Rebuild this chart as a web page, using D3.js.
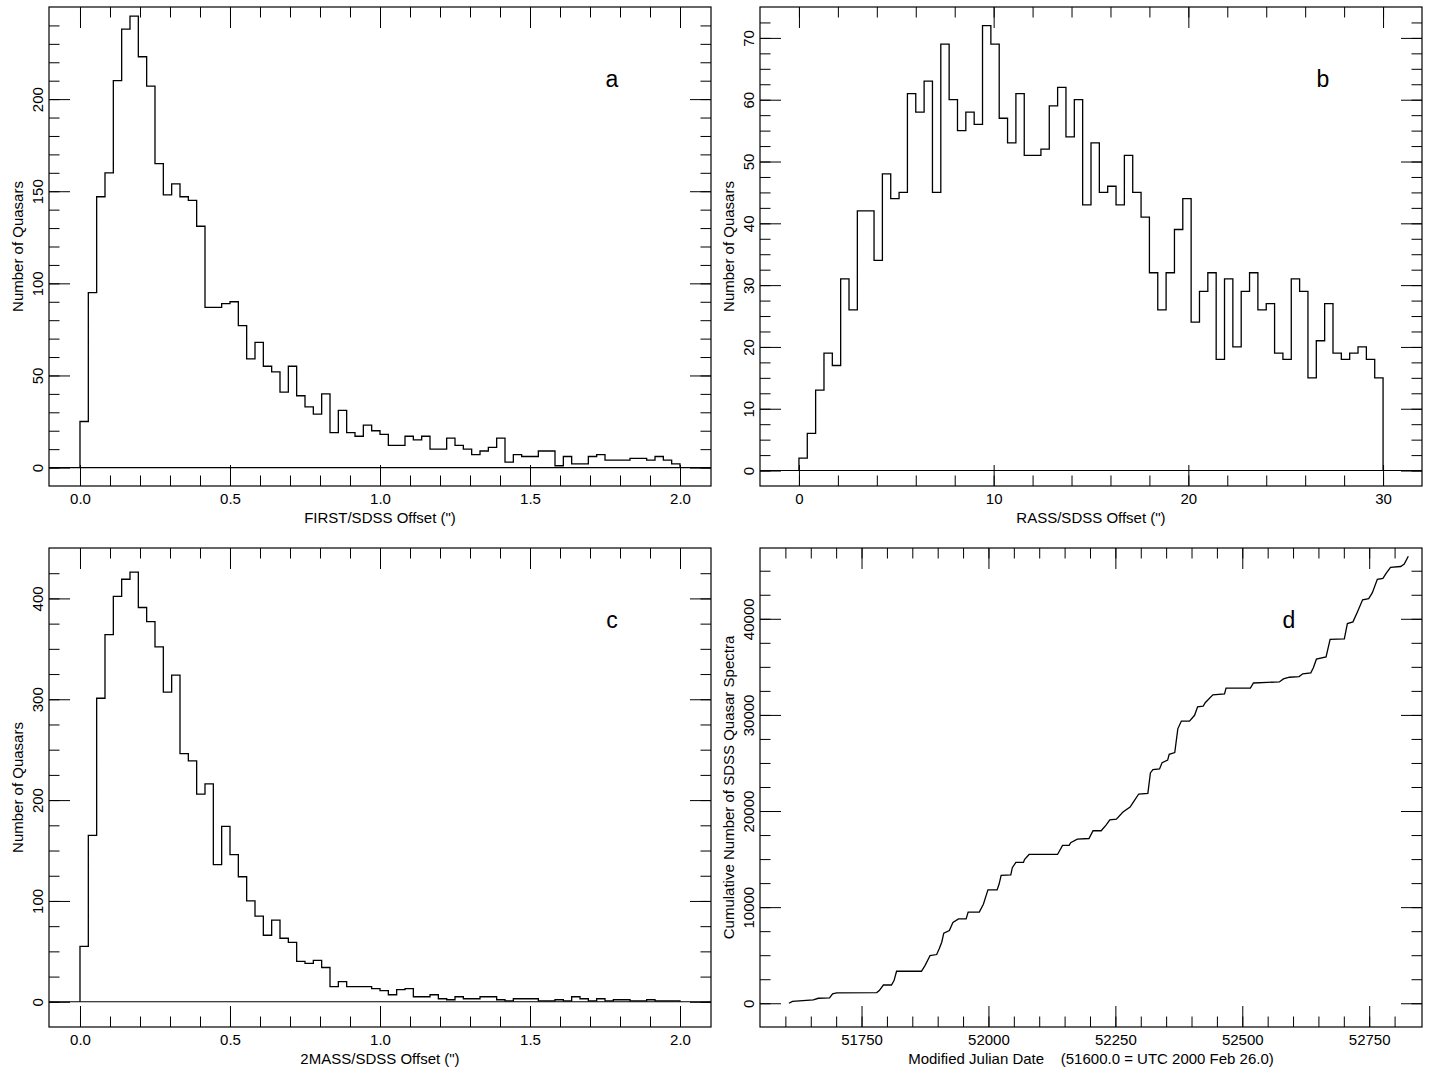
<!DOCTYPE html>
<html>
<head>
<meta charset="utf-8">
<script src="https://cdn.jsdelivr.net/npm/d3@7"></script>
<style>
  body { margin: 0; background: #fff; }
  text { font-family: "Liberation Sans", Arial, Helvetica, sans-serif; fill: #000; }
</style>
</head>
<body>
<svg id="chart" width="1431" height="1070"></svg>
<script>
"use strict";

// a: FIRST/SDSS offsets, 72 bins between 0 and 2 arcsec
var firstCounts = [25, 95, 147, 160, 210, 238, 245, 223, 207, 165, 148, 154, 147, 145, 131,
  87, 87, 89, 90, 77, 59, 68, 55, 52, 41, 55, 39, 33, 29, 40, 19, 31, 19, 17, 23,
  20, 18, 12, 12, 17, 15, 17, 10, 10, 16, 12, 10, 7, 9, 11, 16, 3, 7, 6, 6, 9, 9, 1,
  6, 2, 2, 6, 7, 4, 4, 4, 5, 5, 4, 6, 4, 2];

// b: RASS/SDSS offsets, 70 bins between 0 and 30 arcsec
var rassCounts = [2, 6, 13, 19, 17, 31, 26, 42, 42, 34, 48, 44, 45, 61, 58, 63, 45, 69, 60, 55,
  58, 56, 72, 69, 57, 53, 61, 51, 51, 52, 59, 62, 54, 60, 43, 53, 45, 46, 43, 51,
  45, 41, 32, 26, 32, 39, 44, 24, 29, 32, 18, 31, 20, 29, 32, 26, 27, 19, 18, 31,
  29, 15, 21, 27, 19, 18, 19, 20, 18, 15];

// c: 2MASS/SDSS offsets, 72 bins between 0 and 2 arcsec
var twomassCounts = [55, 165, 301, 364, 402, 419, 426, 391, 377, 352, 307, 324, 246, 239, 206, 216,
  136, 174, 146, 124, 100, 85, 66, 81, 63, 59, 40, 38, 41, 34, 15, 20, 15, 15, 15, 13,
  11, 7, 12, 13, 5, 5, 7, 3, 2, 5, 3, 3, 5, 5, 2, 1, 3, 3, 3, 1, 1, 2, 1, 5, 3, 1, 3,
  1, 2, 2, 1, 1, 2, 1, 1, 1];

// d: cumulative quasar spectra against MJD (corners)
var mjdDates = [51607, 51614, 51655, 51665, 51687, 51693, 51701, 51780, 51785, 51793, 51809,
  51814, 51819, 51868, 51875, 51885, 51898, 51903, 51908, 51912, 51923, 51930, 51941,
  51956, 51960, 51982, 51990, 51996, 51999, 52017, 52021, 52025, 52044, 52047, 52054,
  52069, 52071, 52080, 52136, 52146, 52159, 52162, 52175, 52198, 52206, 52222, 52232,
  52239, 52252, 52265, 52279, 52288, 52296, 52314, 52319, 52324, 52337, 52342, 52353,
  52356, 52367, 52373, 52380, 52396, 52406, 52412, 52423, 52427, 52442, 52465, 52468,
  52516, 52522, 52550, 52573, 52581, 52593, 52612, 52619, 52635, 52640, 52646, 52665,
  52673, 52701, 52707, 52718, 52727, 52737, 52749, 52756, 52766, 52777, 52783, 52792,
  52812, 52819, 52827];
var cumSpectra = [0, 200, 350, 520, 560, 970, 1080, 1110, 1320, 1900, 1900,
  2360, 3330, 3330, 3920, 4970, 5070, 5660, 6350, 7290, 7570, 8400, 8780,
  8780, 9480, 9480, 10300, 11300, 11800, 11800, 12400, 13300, 13360, 14100, 14660,
  14660, 14950, 15480, 15480, 16430, 16430, 16710, 17070, 17140, 17950, 17950, 18550,
  19080, 19150, 19890, 20420, 21130, 21770, 21840, 23960, 24310, 24380, 25020, 25300,
  25900, 26080, 28550, 29360, 29360, 29960, 30850, 30920, 31270, 32080, 32190, 32790,
  32790, 33320, 33390, 33430, 33750, 33920, 33990, 34280, 34380, 34910, 35800, 36040,
  37850, 37920, 39500, 39680, 40740, 41980, 42090, 42690, 44100, 44200, 44700, 45340,
  45440, 45690, 46500];

// tick values
var offsetMajor = [0, 0.5, 1.0, 1.5, 2.0];
var rassMajor = [0, 10, 20, 30];
var mjdMajor = [51750, 52000, 52250, 52500, 52750];
var countMajorA = [0, 50, 100, 150, 200];
var countMajorB = [0, 10, 20, 30, 40, 50, 60, 70];
var countMajorC = [0, 100, 200, 300, 400];
var cumMajor = [0, 10000, 20000, 30000, 40000];

var W = 662, H = 479;
var svg = d3.select("#chart");

var panels = [
  { letter: "a", left: 49, top: 7, letterDx: 563,
    xDomain: [-0.1033, 2.1033], yDomain: [-10, 250],
    xMajor: offsetMajor, xMinor: d3.range(0, 21).map(function(i) { return i / 10; }),
    yMajor: countMajorA, yMinor: d3.range(0, 250, 10),
    xFmt: d3.format(".1f"), yFmt: d3.format("d"),
    xTitle: "FIRST/SDSS Offset (\")", yTitle: "Number of Quasars",
    counts: firstCounts, histMax: 2 },
  { letter: "b", left: 760, top: 7, letterDx: 563,
    xDomain: [-2, 32], yDomain: [-2.5, 75],
    xMajor: rassMajor, xMinor: d3.range(0, 31, 2),
    yMajor: countMajorB, yMinor: d3.range(0, 75, 2.5),
    xFmt: d3.format("d"), yFmt: d3.format("d"),
    xTitle: "RASS/SDSS Offset (\")", yTitle: "Number of Quasars",
    counts: rassCounts, histMax: 30 },
  { letter: "c", left: 49, top: 548, letterDx: 563,
    xDomain: [-0.1033, 2.1033], yDomain: [-25, 450],
    xMajor: offsetMajor, xMinor: d3.range(0, 21).map(function(i) { return i / 10; }),
    yMajor: countMajorC, yMinor: d3.range(0, 450, 25),
    xFmt: d3.format(".1f"), yFmt: d3.format("d"),
    xTitle: "2MASS/SDSS Offset (\")", yTitle: "Number of Quasars",
    counts: twomassCounts, histMax: 2 },
  { letter: "d", left: 760, top: 548, letterDx: 529,
    xDomain: [51550, 52854], yDomain: [-2470, 47365],
    xMajor: mjdMajor, xMinor: d3.range(51600, 52801, 50),
    yMajor: cumMajor, yMinor: d3.range(0, 45001, 2500),
    xFmt: d3.format("d"), yFmt: d3.format("d"),
    xTitle: "Modified Julian Date\u00a0\u00a0\u00a0\u00a0(51600.0 = UTC 2000 Feb 26.0)",
    yTitle: "Cumulative Number of SDSS Quasar Spectra",
    counts: null }
];

function tidy(g) {
  g.attr("font-family", null).attr("font-size", null);
  g.select(".domain").remove();
  g.selectAll("line").attr("stroke", "#000").attr("stroke-width", 1);
}

panels.forEach(function(p) {
  var g = svg.append("g").attr("transform", "translate(" + p.left + "," + p.top + ")");
  var x = d3.scaleLinear().domain(p.xDomain).range([0, W]);
  var y = d3.scaleLinear().domain(p.yDomain).range([H, 0]);

  // minor ticks on all four sides
  g.append("g").attr("transform", "translate(0," + H + ")")
    .call(d3.axisBottom(x).tickValues(p.xMinor).tickSize(-10.5).tickFormat("")).call(tidy);
  g.append("g")
    .call(d3.axisTop(x).tickValues(p.xMinor).tickSize(-10.5).tickFormat("")).call(tidy);
  g.append("g")
    .call(d3.axisLeft(y).tickValues(p.yMinor).tickSize(-10.5).tickFormat("")).call(tidy);
  g.append("g").attr("transform", "translate(" + W + ",0)")
    .call(d3.axisRight(y).tickValues(p.yMinor).tickSize(-10.5).tickFormat("")).call(tidy);

  // major ticks, labels on bottom and left
  var bottom = g.append("g").attr("transform", "translate(0," + H + ")")
    .call(d3.axisBottom(x).tickValues(p.xMajor).tickSize(-21).tickPadding(7.5).tickFormat(p.xFmt))
    .call(tidy);
  bottom.selectAll("text").attr("font-size", 15);
  g.append("g")
    .call(d3.axisTop(x).tickValues(p.xMajor).tickSize(-21).tickFormat("")).call(tidy);
  var left = g.append("g")
    .call(d3.axisLeft(y).tickValues(p.yMajor).tickSize(-21).tickFormat(p.yFmt)).call(tidy);
  left.selectAll("text")
    .attr("x", 0).attr("dy", null)
    .attr("text-anchor", "middle")
    .attr("font-size", 15)
    .attr("transform", "translate(-6,0) rotate(-90)");
  g.append("g").attr("transform", "translate(" + W + ",0)")
    .call(d3.axisRight(y).tickValues(p.yMajor).tickSize(-21).tickFormat("")).call(tidy);

  // frame
  g.append("rect").attr("width", W).attr("height", H)
    .attr("fill", "none").attr("stroke", "#000").attr("stroke-width", 1.2);

  var line = d3.line()
    .x(function(d) { return x(d[0]); })
    .y(function(d) { return y(d[1]); });

  if (p.counts) {
    // zero line across the panel
    g.append("line")
      .attr("x1", 0).attr("x2", W)
      .attr("y1", y(0)).attr("y2", y(0))
      .attr("stroke", "#000").attr("stroke-width", 1.1);

    var n = p.counts.length;
    var bw = p.histMax / n;
    var pts = [[0, 0]];
    p.counts.forEach(function(c, i) {
      pts.push([i * bw, c]);
      pts.push([(i + 1) * bw, c]);
    });
    pts.push([p.histMax, 0]);
    g.append("path").datum(pts)
      .attr("d", line)
      .attr("fill", "none").attr("stroke", "#000").attr("stroke-width", 1.3);
  } else {
    var cum = mjdDates.map(function(m, i) { return [m, cumSpectra[i]]; });
    g.append("path").datum(cum)
      .attr("d", line)
      .attr("fill", "none").attr("stroke", "#000").attr("stroke-width", 1.3);
  }

  // titles
  g.append("text")
    .attr("x", W / 2).attr("y", H + 37)
    .attr("text-anchor", "middle").attr("font-size", 15)
    .text(p.xTitle);
  g.append("text")
    .attr("transform", "translate(-26.5," + (H / 2) + ") rotate(-90)")
    .attr("text-anchor", "middle").attr("font-size", 15)
    .text(p.yTitle);
  g.append("text")
    .attr("x", p.letterDx).attr("y", 80)
    .attr("text-anchor", "middle").attr("font-size", 23)
    .text(p.letter);
});
</script>
</body>
</html>
